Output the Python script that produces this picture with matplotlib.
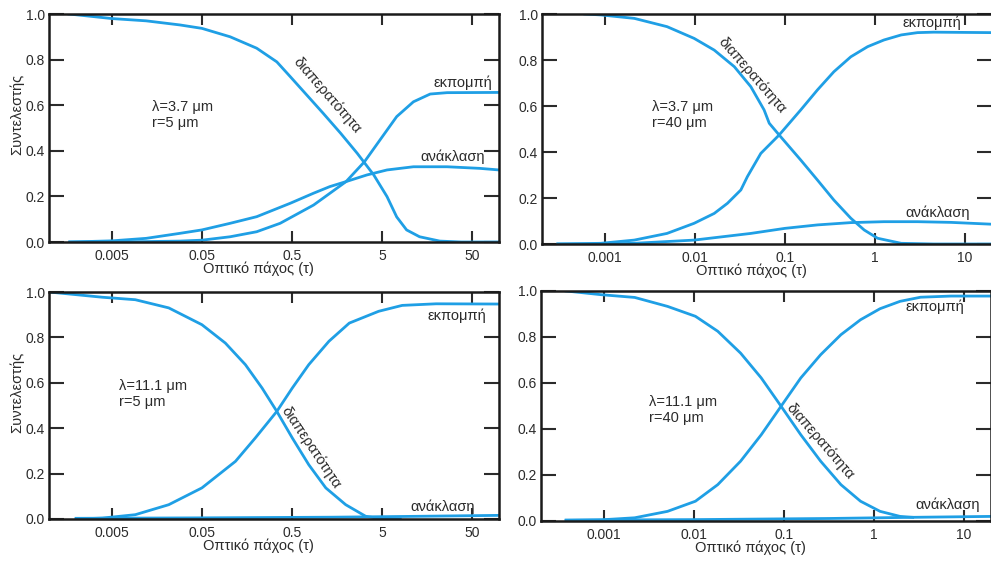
import matplotlib.pyplot as plt

plt.rcParams['font.family'] = ['Liberation Sans', 'DejaVu Sans']
plt.rcParams['font.size'] = 10

# ---- data ----
# panel 1: lambda=3.7 um, r=5 um
tau_t1 = [0.00167, 0.005, 0.012, 0.0285, 0.05, 0.103, 0.203, 0.34, 0.48, 0.73, 1.11, 1.73, 2.66, 4.06, 5.7, 7.3, 9.4, 13.1, 22, 38, 100]
trans1 = [1.0, 0.98, 0.97, 0.952, 0.937, 0.90, 0.85, 0.79, 0.725, 0.645, 0.565, 0.478, 0.389, 0.294, 0.199, 0.11, 0.053, 0.023, 0.004, 0.0, 0.0]
tau_e1 = [0.0017, 0.0085, 0.0285, 0.05, 0.103, 0.203, 0.37, 0.87, 2.0, 3.2, 4.75, 7.3, 11.2, 17.2, 26.5, 100]
emis1 = [0.0, 0.001, 0.004, 0.008, 0.023, 0.045, 0.082, 0.162, 0.265, 0.352, 0.447, 0.55, 0.615, 0.649, 0.655, 0.656]
tau_r1 = [0.0017, 0.005, 0.012, 0.0285, 0.05, 0.103, 0.203, 0.48, 0.87, 1.32, 2.0, 3.4, 5.7, 11.2, 26.5, 61, 100]
refl1 = [0.0, 0.005, 0.016, 0.038, 0.053, 0.082, 0.111, 0.17, 0.214, 0.243, 0.265, 0.294, 0.316, 0.33, 0.33, 0.323, 0.316]

# panel 2: lambda=3.7 um, r=40 um
tau_t2 = [0.0006, 0.0009, 0.00212, 0.0049, 0.0098, 0.0164, 0.0274, 0.0418, 0.0587, 0.067, 0.0863, 0.15, 0.23, 0.35, 0.54, 0.76, 1.07, 1.96, 4.5, 20]
trans2 = [1.0, 0.996, 0.981, 0.945, 0.894, 0.843, 0.771, 0.684, 0.583, 0.525, 0.474, 0.365, 0.278, 0.191, 0.112, 0.061, 0.025, 0.003, 0.0, 0.0]
tau_e2 = [0.0003, 0.0009, 0.00212, 0.0049, 0.0098, 0.0164, 0.023, 0.0324, 0.0383, 0.054, 0.0863, 0.15, 0.23, 0.35, 0.54, 0.83, 1.26, 1.96, 2.97, 4.5, 20]
emis2 = [0.0, 0.003, 0.017, 0.046, 0.09, 0.133, 0.177, 0.235, 0.293, 0.394, 0.474, 0.583, 0.67, 0.749, 0.814, 0.858, 0.887, 0.909, 0.919, 0.921, 0.919]
tau_r2 = [0.0003, 0.0009, 0.00212, 0.0098, 0.0418, 0.1, 0.23, 0.54, 1.26, 2.97, 7.0, 20]
refl2 = [0.0, 0.0, 0.003, 0.017, 0.046, 0.068, 0.083, 0.093, 0.097, 0.097, 0.094, 0.086]

# panel 3: lambda=11.1 um, r=5 um
tau_t3 = [0.001, 0.0039, 0.0091, 0.0214, 0.05, 0.0911, 0.152, 0.233, 0.34, 0.505, 0.77, 1.19, 1.98, 3.3, 5.0, 8.0]
trans3 = [1.0, 0.977, 0.966, 0.93, 0.856, 0.775, 0.68, 0.577, 0.474, 0.357, 0.239, 0.137, 0.063, 0.012, 0.0, 0.0]
tau_e3 = [0.002, 0.0039, 0.0091, 0.0214, 0.05, 0.118, 0.196, 0.34, 0.505, 0.77, 1.29, 2.17, 4.6, 8.4, 20, 100]
emis3 = [0.0, 0.004, 0.019, 0.063, 0.137, 0.254, 0.357, 0.474, 0.577, 0.68, 0.783, 0.863, 0.915, 0.941, 0.948, 0.947]
tau_r3 = [0.002, 0.05, 1.43, 7.9, 100]
refl3 = [0.003, 0.005, 0.008, 0.011, 0.016]

# panel 4: lambda=11.1 um, r=40 um
tau_t4 = [0.00038, 0.00093, 0.0022, 0.0051, 0.0104, 0.0184, 0.033, 0.056, 0.093, 0.154, 0.256, 0.43, 0.71, 1.17, 1.95, 2.7]
trans4 = [1.0, 0.984, 0.972, 0.933, 0.89, 0.825, 0.73, 0.622, 0.499, 0.375, 0.26, 0.158, 0.086, 0.042, 0.02, 0.016]
tau_e4 = [0.00038, 0.00093, 0.0022, 0.0051, 0.0104, 0.0184, 0.033, 0.056, 0.093, 0.154, 0.256, 0.43, 0.71, 1.17, 1.95, 3.3, 7.2, 20]
emis4 = [0.003, 0.005, 0.014, 0.042, 0.086, 0.158, 0.26, 0.375, 0.499, 0.622, 0.723, 0.81, 0.875, 0.923, 0.955, 0.973, 0.978, 0.978]
tau_r4 = [0.00038, 0.01, 0.32, 2.7, 20]
refl4 = [0.004, 0.006, 0.011, 0.016, 0.02]

panel_text = ['λ=3.7 μm\nr=5 μm', 'λ=3.7 μm\nr=40 μm', 'λ=11.1 μm\nr=5 μm', 'λ=11.1 μm\nr=40 μm']
ticks_a = [0.005, 0.05, 0.5, 5, 50]
ticks_a_lab = ['0.005', '0.05', '0.5', '5', '50']
ticks_b = [0.001, 0.01, 0.1, 1, 10]
ticks_b_lab = ['0.001', '0.01', '0.1', '1', '10']

blue = '#1f9fe5'
ink = '#2b2b2b'

W, H = 991, 561
fig = plt.figure(figsize=(W / 100, H / 100), dpi=100)

def box(l, t, r, b):
    return [l / W, 1 - b / H, (r - l) / W, (b - t) / H]

axes = [fig.add_axes(box(49, 14, 499, 242)),
        fig.add_axes(box(542, 14, 992, 244)),
        fig.add_axes(box(49, 292, 499, 519)),
        fig.add_axes(box(541, 291, 991, 521))]

data = [(tau_t1, trans1, tau_e1, emis1, tau_r1, refl1),
        (tau_t2, trans2, tau_e2, emis2, tau_r2, refl2),
        (tau_t3, trans3, tau_e3, emis3, tau_r3, refl3),
        (tau_t4, trans4, tau_e4, emis4, tau_r4, refl4)]
xlims = [(0.001, 100), (0.0002, 20), (0.001, 100), (0.0002, 20)]

for i, ax in enumerate(axes):
    tt, tr, te, em, trr, rf = data[i]
    ax.plot(tt, tr, color=blue, lw=2)
    ax.plot(te, em, color=blue, lw=2)
    ax.plot(trr, rf, color=blue, lw=2)
    ax.set_xscale('log')
    ax.set_xlim(*xlims[i])
    ax.set_ylim(0, 1)
    ax.minorticks_off()
    if i % 2 == 0:
        ax.set_xticks(ticks_a)
        ax.set_xticklabels(ticks_a_lab)
    else:
        ax.set_xticks(ticks_b)
        ax.set_xticklabels(ticks_b_lab)
    ax.set_yticks([0, 0.2, 0.4, 0.6, 0.8, 1.0])
    ax.set_yticklabels(['0.0', '0.2', '0.4', '0.6', '0.8', '1.0'])
    ax.tick_params(axis='x', direction='in', top=True, length=8, width=1.5, pad=5, colors=ink)
    ax.tick_params(axis='y', direction='in', right=True, length=11, width=1.5, pad=3, colors=ink)
    for s in ax.spines.values():
        s.set_linewidth(1.8)
        s.set_color('#1a1a1a')
    ax.set_xlabel('Οπτικό πάχος (τ)', color=ink, fontsize=10.5)
    ax.xaxis.set_label_coords(0.465, -0.085)
    if i % 2 == 0:
        ax.set_ylabel('Συντελεστής', color=ink, fontsize=10.5)
        ax.yaxis.set_label_coords(-0.056, 0.56)

def label(px, py, s, rot=0, ha='center', va='center'):
    fig.text(px / W, 1 - py / H, s, rotation=rot, ha=ha, va=va, color=ink,
             rotation_mode='anchor', fontsize=10.5)

# panel annotations (pixel positions in the reference)
label(152, 115, panel_text[0], ha='left')
label(327, 95, 'διαπερατότητα', rot=-49)
label(463, 83, 'εκπομπή')
label(453, 157, 'ανάκλαση')

label(652, 115, panel_text[1], ha='left')
label(752, 75, 'διαπερατότητα', rot=-49)
label(932, 23, 'εκπομπή')
label(938, 213, 'ανάκλαση')

label(119, 394, panel_text[2], ha='left')
label(311, 448, 'διαπερατότητα', rot=-56)
label(457, 316, 'εκπομπή')
label(443, 507, 'ανάκλαση')

label(649, 410, panel_text[3], ha='left')
label(820, 441, 'διαπερατότητα', rot=-49)
label(935, 307, 'εκπομπή')
label(948, 505, 'ανάκλαση')

fig.savefig('out.png', dpi=100)
